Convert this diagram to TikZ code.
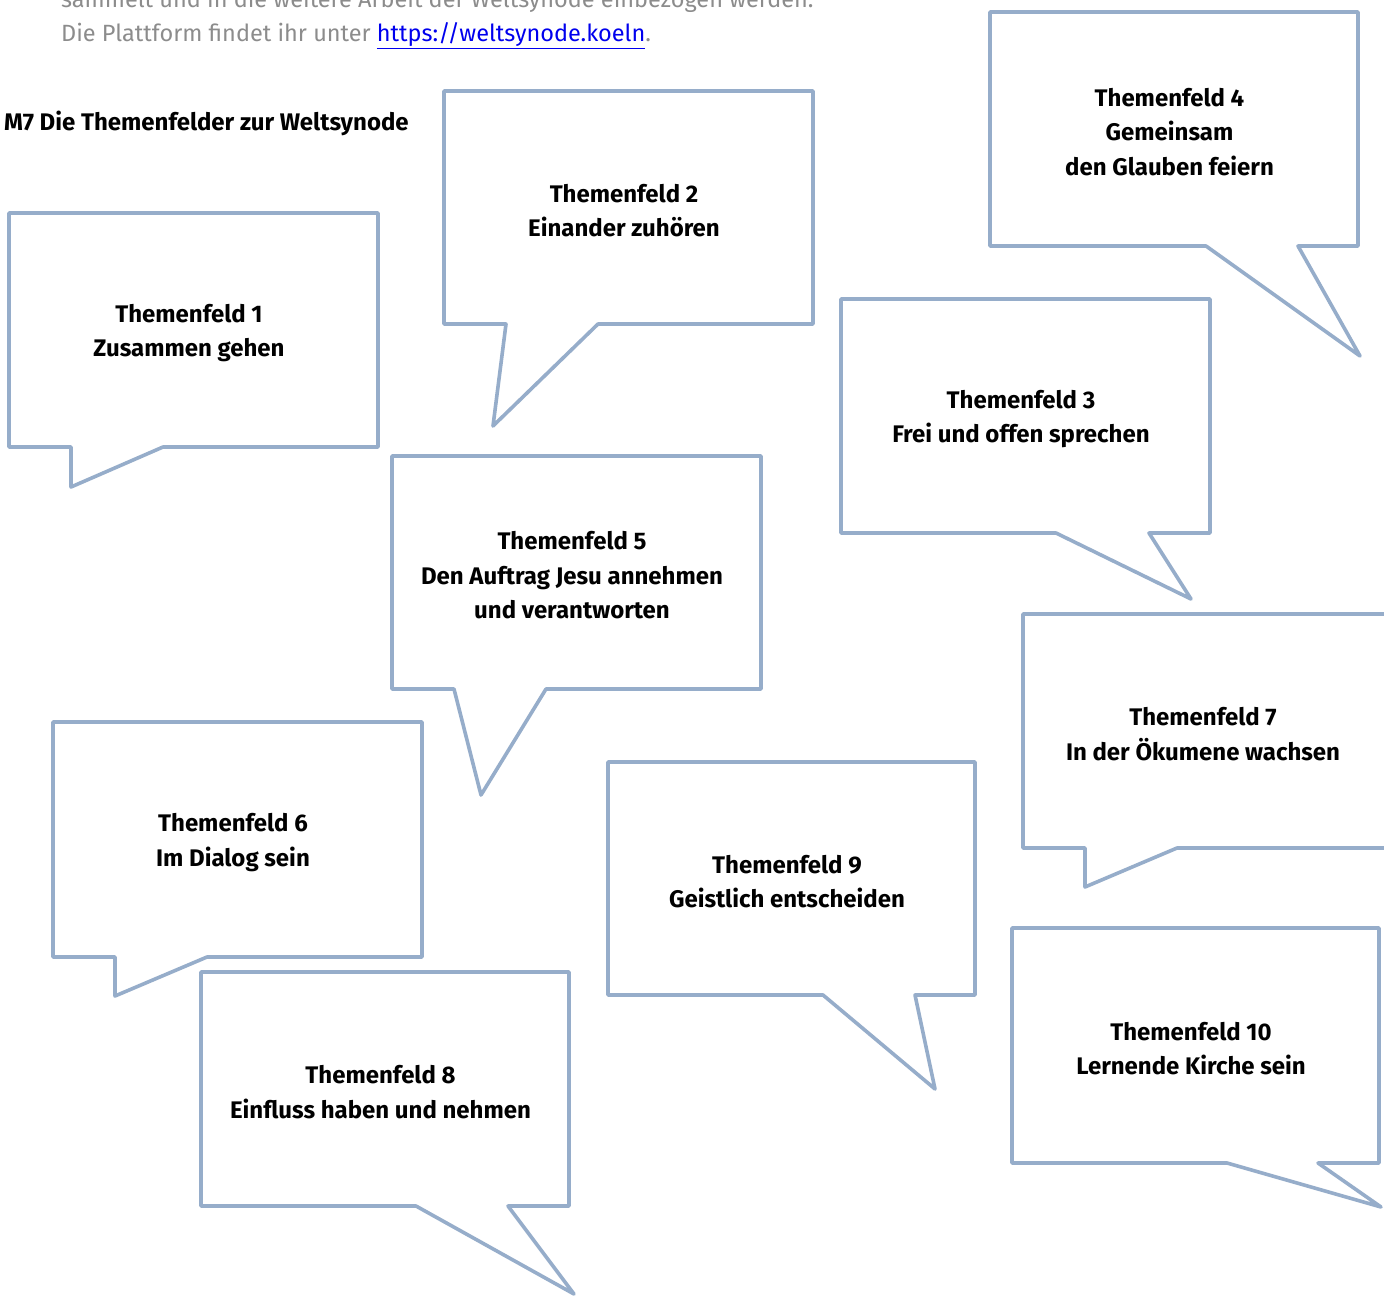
\documentclass[tikz,border=0pt]{standalone}
\usepackage{fontspec}
\setmainfont{Fira Sans}
\definecolor{bubblecol}{RGB}{150,173,202}
\definecolor{greytext}{RGB}{140,140,140}
\definecolor{linkblue}{RGB}{0,0,238}
\tikzset{
  bubble/.style={draw=bubblecol,line width=3.6pt,line join=round,fill=white},
  label/.style={align=center,font=\bfseries\fontsize{24}{34.5}\selectfont,text=black,inner sep=0pt},
  intro/.style={anchor=west,font=\fontsize{23.5}{26}\selectfont,text=greytext,inner sep=0pt},
}
% #1 name, #2 x1, #3 y1, #4 x2, #5 y2, #6 tailL, #7 tip x, #8 tip y, #9 tailR
\newcommand\bubblebox[9]{%
  \draw[bubble] (#2,#3) -- (#4,#3) -- (#4,#5) -- (#9,#5) -- (#7,#8) -- (#6,#5) -- (#2,#5) -- cycle;
  \coordinate (#1) at ({(#2+#4)/2-4.5},{(#3+#5)/2+3});
}
\begin{document}
\begin{tikzpicture}[x=1pt,y=-1pt]
\useasboundingbox (0,0) rectangle (1384,1296);
\clip (0,0) rectangle (1384,1296);
\fill[white] (0,0) rectangle (1384,1296);

\node[intro] (intro1) at (61,1) {sammelt und in die weitere Arbeit der Weltsynode einbezogen werden.};
\node[intro] (intro2) at (61,36) {Die Plattform findet ihr unter \textcolor{linkblue}{\underline{https://weltsynode.koeln}}.};
\node[anchor=west,inner sep=0pt,font=\bfseries\fontsize{24}{26}\selectfont] (title) at (4,123) {M7 Die Themenfelder zur Weltsynode};

\bubblebox{b1}{9}{213}{378}{447}{71}{71}{487}{163}
\node[label] (t1) at (b1) {Themenfeld 1\\Zusammen gehen};

\bubblebox{b2}{444}{91}{813}{324}{506}{493}{426}{598}
\node[label] (t2) at (b2) {Themenfeld 2\\Einander zuhören};

\bubblebox{b4}{990}{12}{1358}{246}{1206}{1360}{356}{1298}
\node[label] (t4) at (b4) {Themenfeld 4\\Gemeinsam\\den Glauben feiern};

\bubblebox{b3}{841}{299}{1210}{533}{1056}{1191}{599}{1149}
\node[label] (t3) at (b3) {Themenfeld 3\\Frei und offen sprechen};

\bubblebox{b5}{392}{456}{761}{689}{454}{481}{795}{546}
\node[label] (t5) at (b5) {Themenfeld 5\\Den Auftrag Jesu annehmen\\und verantworten};

\bubblebox{b7}{1023}{614}{1392}{848}{1085}{1085}{887}{1177}
\node[label] (t7) at (b7) {Themenfeld 7\\In der Ökumene wachsen};

\bubblebox{b6}{53}{722}{422}{957}{115}{115}{996}{207}
\node[label] (t6) at (b6) {Themenfeld 6\\Im Dialog sein};

\bubblebox{b9}{608}{762}{975}{995}{823}{935}{1089}{915}
\node[label] (t9) at (b9) {Themenfeld 9\\Geistlich entscheiden};

\bubblebox{b8}{201}{972}{569}{1206}{416}{574}{1294}{508}
\node[label] (t8) at (b8) {Themenfeld 8\\Einfluss haben und nehmen};

\bubblebox{b10}{1012}{928}{1379}{1163}{1227}{1381}{1207}{1318}
\node[label] (t10) at (b10) {Themenfeld 10\\Lernende Kirche sein};
\end{tikzpicture}
\end{document}
